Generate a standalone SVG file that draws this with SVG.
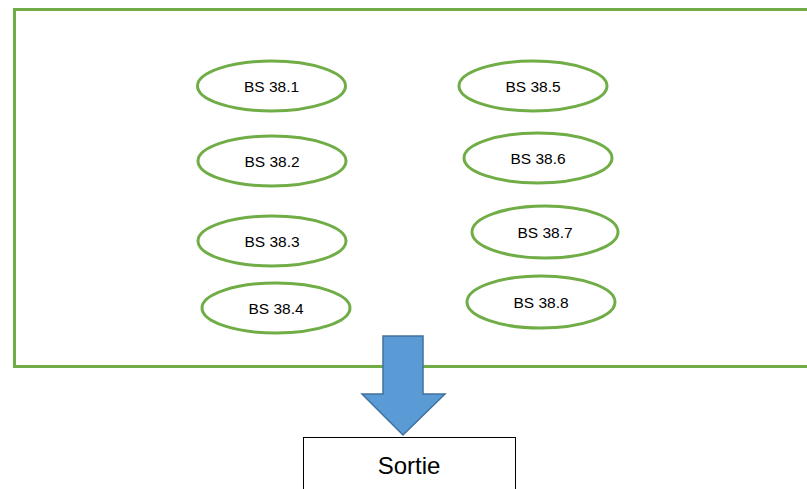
<svg xmlns="http://www.w3.org/2000/svg" width="807" height="489" viewBox="0 0 807 489">
<style>
.n ellipse{fill:#fff;stroke:#70AD47;stroke-width:3}
.n text{font-family:"Liberation Sans",Arial,sans-serif;font-size:15.5px;fill:#000;text-anchor:middle;dominant-baseline:central}
</style>
<rect width="807" height="489" fill="#fff"/>
<g id="container"><rect x="14.5" y="9.5" width="800" height="357" fill="none" stroke="#70AD47" stroke-width="3"/></g>
<g id="bs1" class="n"><ellipse cx="271.5" cy="86" rx="74" ry="25"/><text x="271.5" y="86">BS 38.1</text></g>
<g id="bs2" class="n"><ellipse cx="272" cy="161" rx="74" ry="25"/><text x="272" y="161">BS 38.2</text></g>
<g id="bs3" class="n"><ellipse cx="272" cy="241" rx="74" ry="25"/><text x="272" y="241">BS 38.3</text></g>
<g id="bs4" class="n"><ellipse cx="276" cy="308" rx="74" ry="25"/><text x="276" y="308">BS 38.4</text></g>
<g id="bs5" class="n"><ellipse cx="533" cy="86" rx="74" ry="25"/><text x="533" y="86">BS 38.5</text></g>
<g id="bs6" class="n"><ellipse cx="538" cy="158" rx="74" ry="25"/><text x="538" y="158">BS 38.6</text></g>
<g id="bs7" class="n"><ellipse cx="545" cy="232" rx="73" ry="26"/><text x="545" y="232">BS 38.7</text></g>
<g id="bs8" class="n"><ellipse cx="541" cy="302" rx="74" ry="26"/><text x="541" y="302">BS 38.8</text></g>
<g id="connectors"><polygon points="383,336 423,336 423,394 445,394 403,435 362,394 383,394" fill="#5B9BD5" stroke="#41719C" stroke-width="1.5"/></g>
<g id="sortie"><rect x="303.5" y="437.5" width="212" height="60" fill="#fff" stroke="#000" stroke-width="1"/><text x="409" y="474" font-family="Liberation Sans,Arial,sans-serif" font-size="24" text-anchor="middle">Sortie</text></g>
</svg>
